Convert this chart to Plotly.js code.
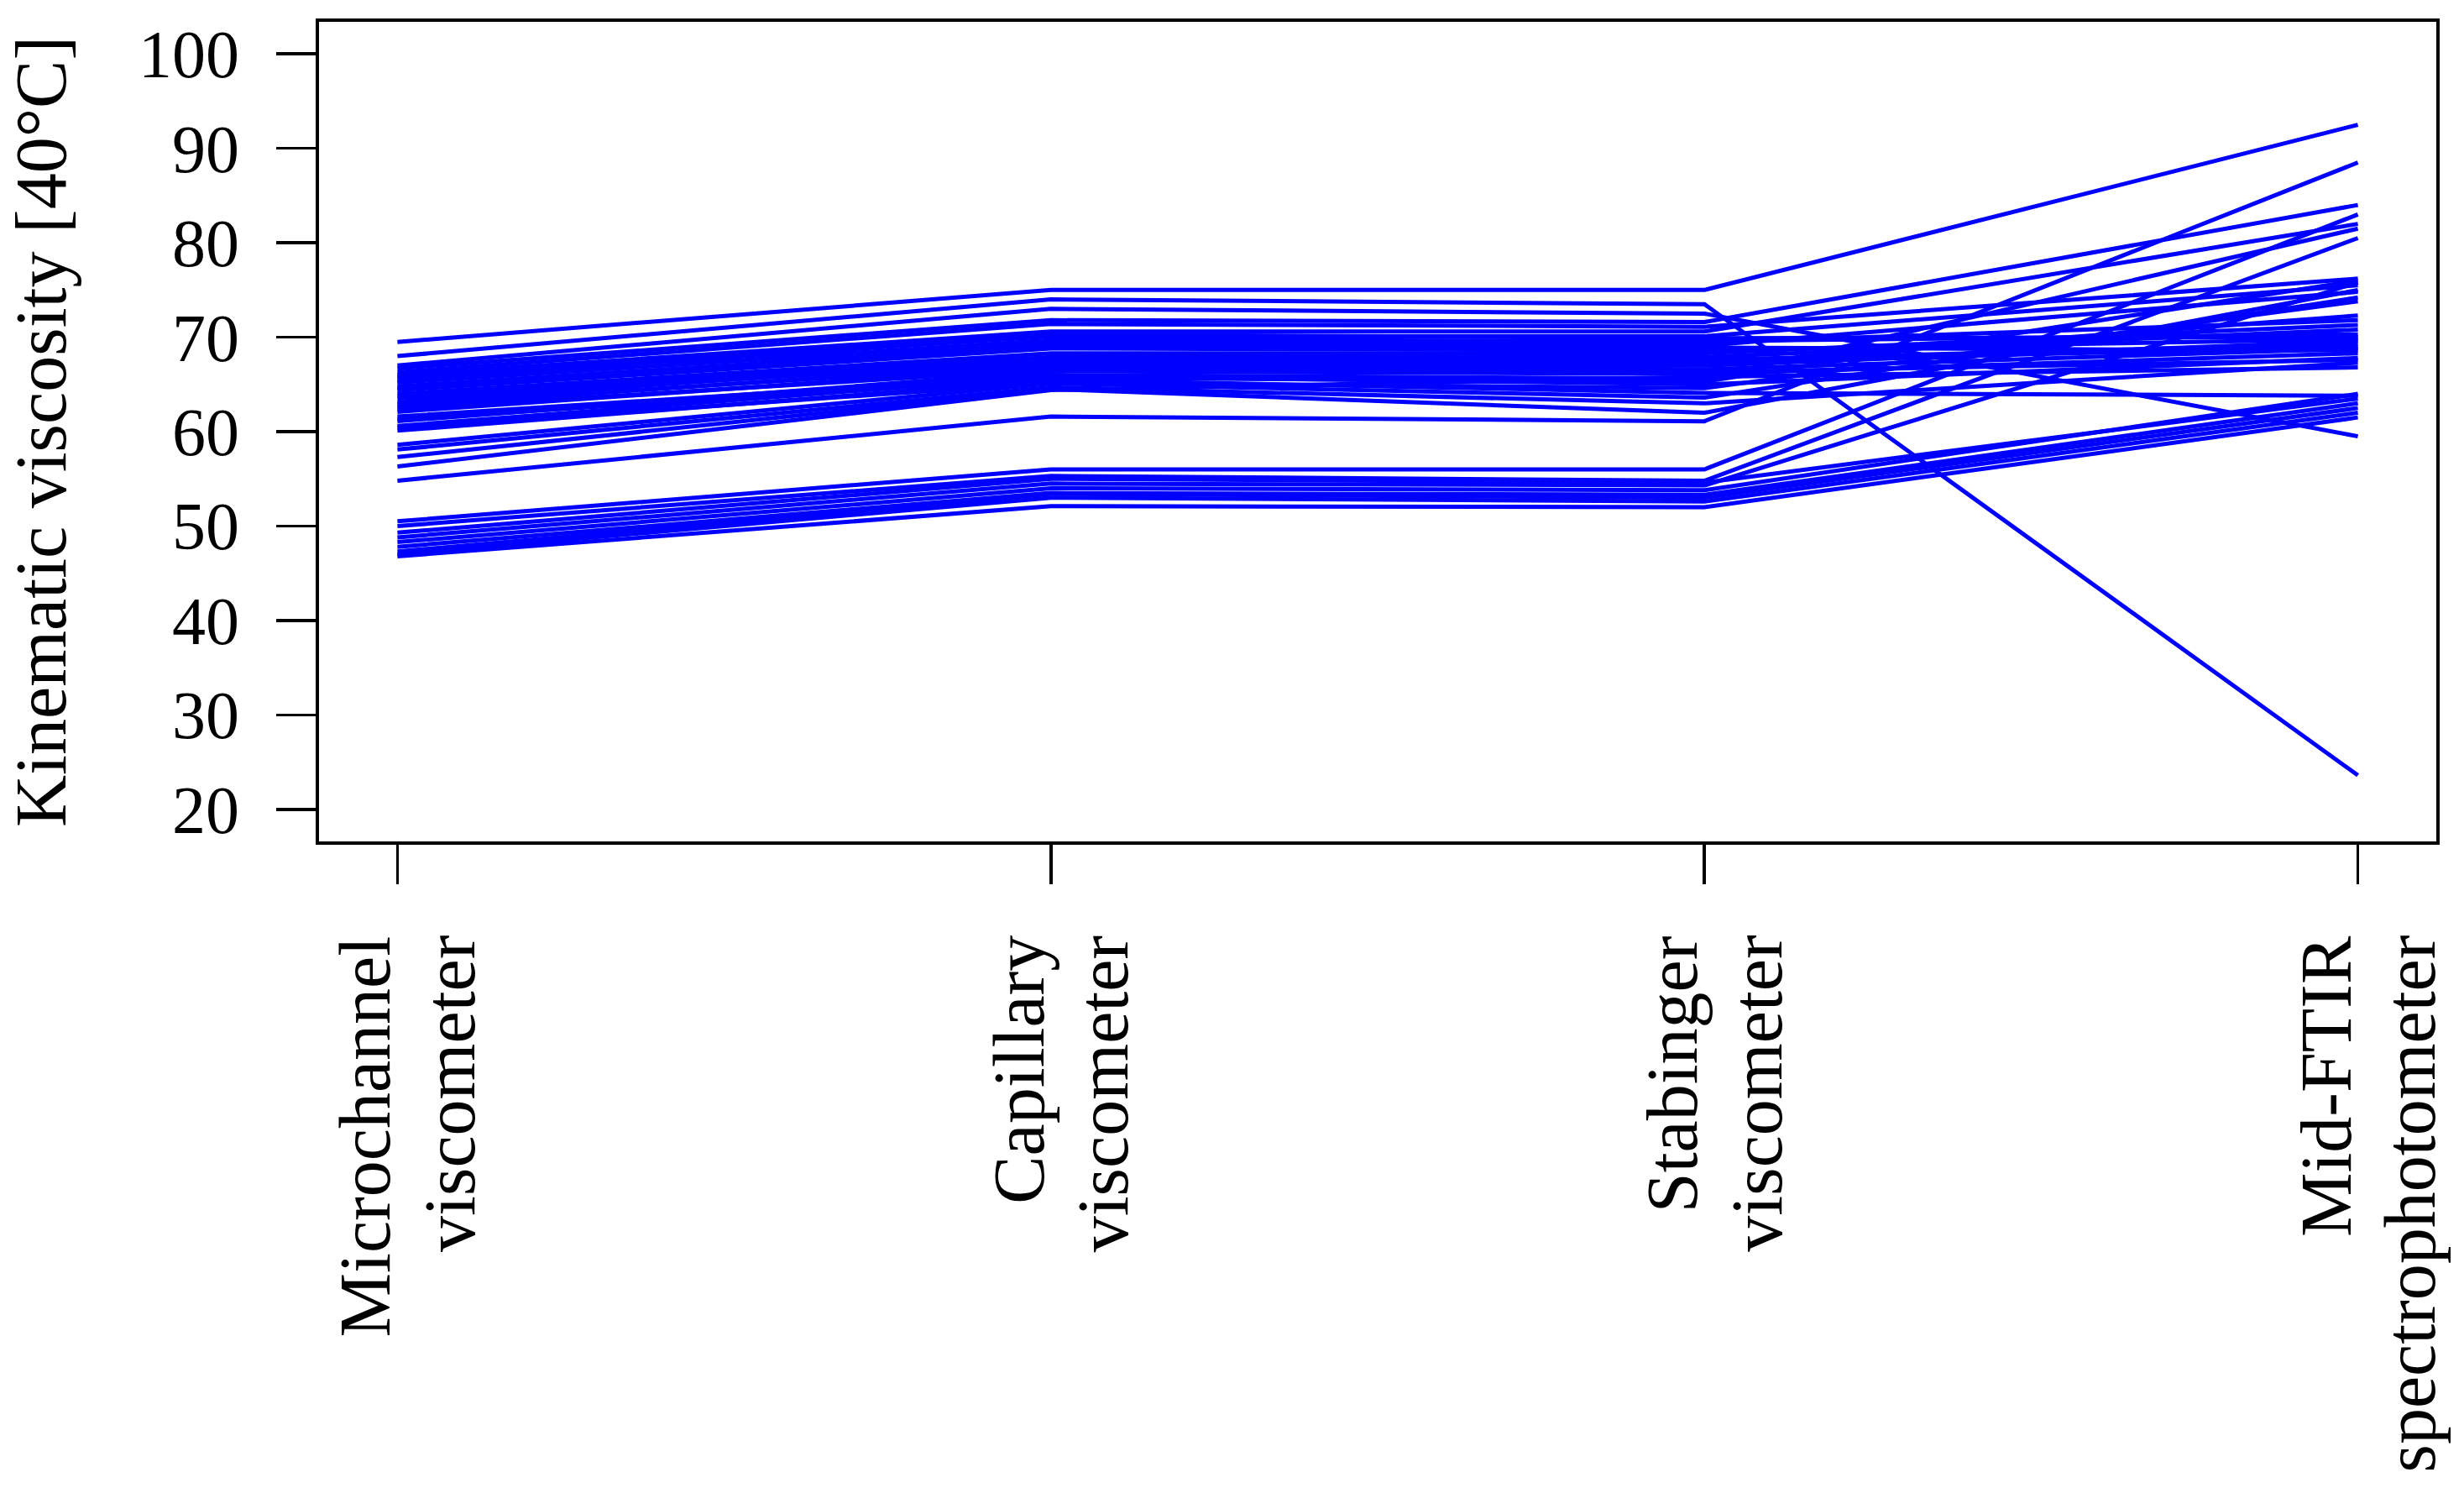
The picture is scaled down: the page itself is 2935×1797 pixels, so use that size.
<!DOCTYPE html>
<html>
<head>
<meta charset="utf-8">
<script src="https://cdn.plot.ly/plotly-3.0.1.min.js"></script>
<style>html,body{margin:0;padding:0;background:#fff;}</style>
</head>
<body>
<div id="chart" style="width:2935px;height:1797px;"></div>
<script>
// Methods (axis categories), each label split in two lines
const methodLine1 = ["Microchannel", "Capillary", "Stabinger", "Mid-FTIR"];
const methodLine2 = ["viscometer", "viscometer", "viscometer", "spectrophotometer"];

// Kinematic viscosity at 40°C per sample, one array per method (same sample order)
const microchannel = [69.5, 68.0, 67.0, 66.7, 66.3, 66.0, 65.8, 65.6, 65.3, 65.2, 64.8, 64.6, 64.4, 64.0, 63.8, 63.5, 63.1, 62.9, 62.6, 62.4, 62.1, 61.6, 61.3, 61.1, 60.6, 60.4, 60.1, 58.6, 58.1, 57.3, 56.3, 54.8,
                      50.5, 50.0, 49.3, 48.8, 48.3, 47.8, 47.3, 47.0, 46.8];
const capillary    = [75.0, 74.0, 73.0, 71.8, 71.4, 70.6, 70.3, 70.1, 69.5, 69.7, 69.2, 68.9, 68.8, 68.3, 67.9, 67.5, 67.8, 67.1, 67.4, 66.6, 66.9, 66.0, 65.7, 66.4, 65.9, 65.2, 65.5, 65.1, 64.7, 64.5, 64.4, 61.6,
                      56.0, 55.3, 55.0, 54.5, 54.0, 53.5, 53.4, 53.0, 52.1];
const stabinger    = [75.0, 73.5, 72.5, 71.6, 71.1, 70.6, 69.9, 70.1, 69.4, 69.6, 69.1, 68.9, 68.6, 68.3, 67.9, 67.4, 67.6, 67.0, 67.1, 66.3, 66.6, 65.6, 65.3, 66.1, 65.0, 64.6, 64.1, 63.6, 63.0, 62.0, 65.8, 61.1,
                      56.0, 54.8, 54.6, 54.3, 53.8, 53.3, 53.0, 52.6, 52.0];
const midFTIR      = [92.5, 23.6, 59.5, 84.0, 76.2, 82.0, 70.0, 75.5, 71.8, 70.3, 74.8, 68.6, 69.8, 71.3, 70.8, 69.0, 69.3, 69.6, 72.3, 67.6, 68.8, 81.5, 76.0, 68.3, 67.8, 73.8, 63.8, 74.2, 67.3, 75.0, 66.8, 88.5,
                      83.0, 80.5, 63.5, 75.8, 64.0, 63.0, 62.5, 62.0, 61.5];

const xPos = [1, 2, 3, 4];

const traces = microchannel.map((m, i) => ({
  type: "scatter",
  mode: "lines",
  x: xPos,
  y: [m, capillary[i], stabinger[i], midFTIR[i]],
  line: {color: "#0000FF", width: 5},
  hoverinfo: "skip",
  showlegend: false
}));

const font = {family: "Liberation Serif, Times New Roman, serif", color: "#000"};
const labelFont = Object.assign({size: 86}, font);

const annotations = [];
xPos.forEach((xv, i) => {
  annotations.push({
    x: xv, xref: "x", y: 0, yref: "paper", yshift: -110, xshift: -38,
    text: methodLine1[i], textangle: -90, showarrow: false,
    xanchor: "center", yanchor: "top", font: labelFont
  });
  annotations.push({
    x: xv, xref: "x", y: 0, yref: "paper", yshift: -110, xshift: 62,
    text: methodLine2[i], textangle: -90, showarrow: false,
    xanchor: "center", yanchor: "top", font: labelFont
  });
});

const layout = {
  width: 2935,
  height: 1797,
  margin: {l: 380, r: 33, t: 26, b: 795, autoexpand: false},
  paper_bgcolor: "#fff",
  plot_bgcolor: "#fff",
  showlegend: false,
  annotations: annotations,
  xaxis: {
    range: [0.88, 4.12],
    tickvals: xPos,
    showticklabels: false,
    ticks: "outside",
    ticklen: 47,
    tickwidth: 3.5,
    tickcolor: "#000",
    showline: true,
    mirror: true,
    linecolor: "#000",
    linewidth: 4,
    showgrid: false,
    zeroline: false,
    automargin: false
  },
  yaxis: {
    range: [16.6, 103.4],
    tick0: 0,
    dtick: 10,
    ticks: "outside",
    ticklen: 47,
    tickwidth: 3.5,
    tickcolor: "#000",
    ticklabelstandoff: 28,
    showline: true,
    mirror: true,
    linecolor: "#000",
    linewidth: 4,
    showgrid: false,
    zeroline: false,
    automargin: false,
    tickfont: Object.assign({size: 80}, font),
    title: {text: "Kinematic viscosity [40°C]", font: Object.assign({size: 86}, font), standoff: 59}
  }
};

Plotly.newPlot("chart", traces, layout, {staticPlot: true, displayModeBar: false});
</script>
</body>
</html>
